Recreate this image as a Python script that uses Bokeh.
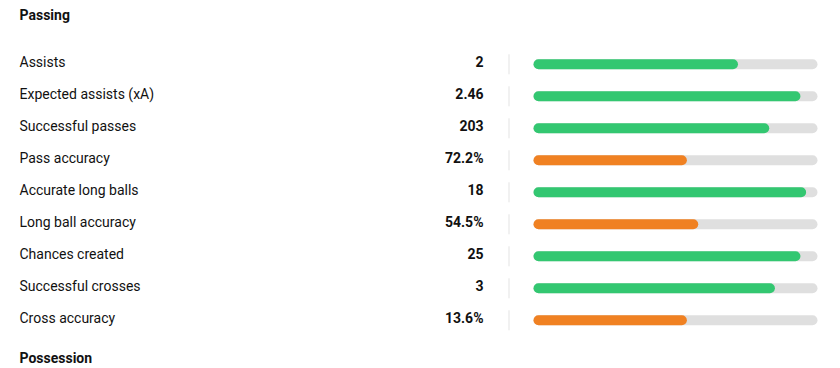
from bokeh.plotting import figure
from bokeh.models import Range1d, ColumnDataSource
from bokeh.core.properties import value
from bokeh.embed import file_html
from bokeh.resources import INLINE

title = "Passing"
next_title = "Possession"
labels = ["Assists", "Expected assists (xA)", "Successful passes", "Pass accuracy",
          "Accurate long balls", "Long ball accuracy", "Chances created",
          "Successful crosses", "Cross accuracy"]
values = ["2", "2.46", "203", "72.2%", "18", "54.5%", "25", "3", "13.6%"]
percentiles = [72, 94, 83, 54, 96, 58, 94, 85, 54]
colors = ["#33c771", "#33c771", "#33c771", "#f08122", "#33c771", "#f08122",
          "#33c771", "#33c771", "#f08122"]

W, H = 840, 368
BAR_X0, BAR_W = 533, 284
ROW = 32.0
TOP = 63.8 / ROW
TXT = 2.5 / ROW  # text sits slightly above the bar centre

rows = [-i for i in range(len(labels))]
src = ColumnDataSource(dict(
    y=rows, ty=[r + TXT for r in rows], label=labels, val=values, color=colors,
    right=[BAR_X0 + BAR_W * p / 100.0 for p in percentiles],
    left=[BAR_X0] * len(labels),
    track=[BAR_X0 + BAR_W] * len(labels),
    sep_y0=[r - 10 / ROW for r in rows], sep_y1=[r + 10 / ROW for r in rows],
    sep_x=[508.5] * len(labels),
))

p = figure(width=W, height=H, output_backend="svg", toolbar_location=None,
           x_range=Range1d(0, W), y_range=Range1d(TOP - H / ROW, TOP),
           min_border=0)
p.xaxis.visible = False
p.yaxis.visible = False
p.grid.visible = False
p.outline_line_color = None
p.background_fill_color = "white"
p.border_fill_color = "white"

h = 10 / ROW
p.hbar(y="y", left="left", right="track", height=h, source=src,
       fill_color="#dfdfdf", line_color=None, border_radius=5)
p.hbar(y="y", left="left", right="right", height=h, source=src,
       fill_color="color", line_color=None, border_radius=5)
p.segment(x0="sep_x", x1="sep_x", y0="sep_y0", y1="sep_y1", source=src,
          line_color="#e3e3e3", line_width=1)

p.text(x=19, y="ty", text="label", source=src, text_font=value("Roboto"),
       text_font_size="14px", text_color="#111111", text_baseline="middle",
       text_align="left")
p.text(x=483, y="ty", text="val", source=src, text_font=value("Roboto"),
       text_font_size="14px", text_font_style="bold", text_color="#111111",
       text_baseline="middle", text_align="right")
p.text(x=[19, 19], y=[TOP - 14 / ROW, TOP - 357 / ROW], text=[title, next_title],
       text_font=value("Roboto"), text_font_size="14px", text_font_style="bold",
       text_color="#111111", text_baseline="middle", text_align="left")

open("out.html", "w").write(file_html(p, INLINE))
